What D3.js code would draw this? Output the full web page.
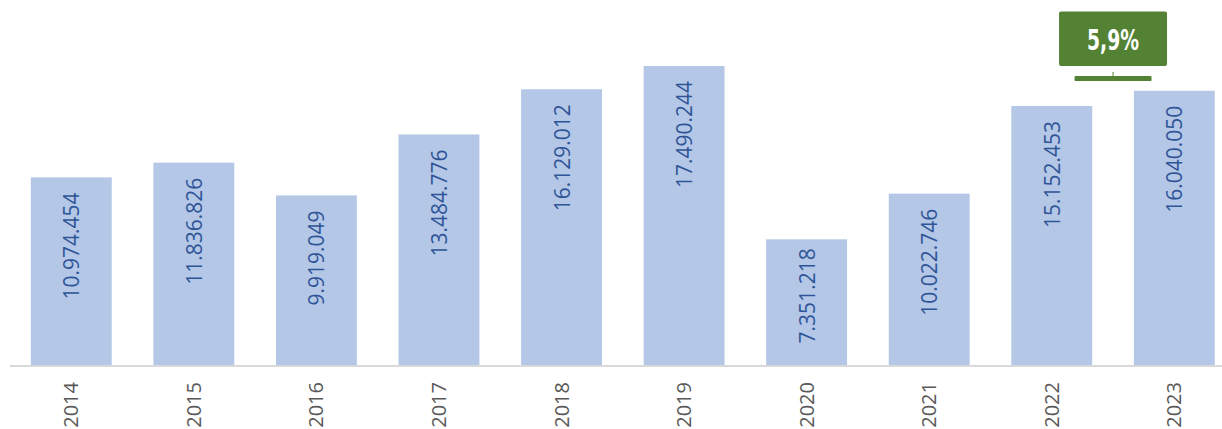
<!DOCTYPE html>
<html>
<head>
<meta charset="utf-8">
<script src="https://cdn.jsdelivr.net/npm/d3@7"></script>
<style>
  html, body { margin: 0; padding: 0; background: #ffffff; }
  svg { display: block; }
</style>
</head>
<body>
<svg id="chart" width="1222" height="429"></svg>
<script>
// Annual totals, 2014–2023
const years = ["2014", "2015", "2016", "2017", "2018", "2019", "2020", "2021", "2022", "2023"];
const values = [10974454, 11836826, 9919049, 13484776, 16129012, 17490244, 7351218, 10022746, 15152453, 16040050];
// Year-over-year change highlighted between the last two years
const changeFrom = "2022";
const changeTo = "2023";
const changeLabel = "5,9%";

const W = 1222, H = 429;
const baseY = 365;

const svg = d3.select("#chart");

const x = d3.scaleBand()
  .domain(years)
  .range([10, 1235.6])
  .paddingInner(0.34)
  .paddingOuter(0.17);

const y = d3.scaleLinear()
  .domain([0, 21350000])
  .range([baseY, 0]);

const fmt = v => d3.format(",")(v).replace(/,/g, ".");

// bars
svg.append("g").selectAll("rect")
  .data(years)
  .join("rect")
  .attr("x", d => x(d))
  .attr("y", (d, i) => y(values[i]))
  .attr("width", x.bandwidth())
  .attr("height", (d, i) => y(0) - y(values[i]))
  .attr("fill", "#b4c7e7");

// value labels, rotated, near the top of each bar (short bars get a tighter inset)
svg.append("g").selectAll("text")
  .data(years)
  .join("text")
  .attr("transform", (d, i) => {
    const h = y(0) - y(values[i]);
    const inset = h < 150 ? 9 : 15;
    return `translate(${x(d) + x.bandwidth() / 2 + 8},${y(values[i]) + inset}) rotate(-90)`;
  })
  .attr("text-anchor", "end")
  .attr("font-family", "'Open Sans', sans-serif")
  .attr("font-size", 21)
  .attr("fill", "#2f5597")
  .text((d, i) => fmt(values[i]));

// category axis
const xAxis = svg.append("g")
  .attr("transform", `translate(0,${baseY + 1})`)
  .call(d3.axisBottom(x).tickSize(0).tickPadding(0));
xAxis.select(".domain").attr("d", `M10,0H${W}`).attr("stroke", "#d9d9d9").attr("stroke-width", 2);
xAxis.selectAll(".tick text")
  .attr("transform", "translate(7,16) rotate(-90)")
  .attr("text-anchor", "end")
  .attr("dy", 0)
  .attr("y", 0)
  .attr("font-family", "'Open Sans', sans-serif")
  .attr("font-size", 20)
  .attr("fill", "#595959");

// change annotation between the last two bars
const cx = (x(changeFrom) + x(changeTo) + x.bandwidth()) / 2;
const ann = svg.append("g").attr("fill", "#548235");
ann.append("rect")
  .attr("x", cx - 77 / 2).attr("y", 76)
  .attr("width", 77).attr("height", 5)
  .attr("rx", 1);
ann.append("rect")
  .attr("x", cx - 0.5).attr("y", 72)
  .attr("width", 1).attr("height", 5);
ann.append("rect")
  .attr("x", cx - 54).attr("y", 11.5)
  .attr("width", 108).attr("height", 54.5)
  .attr("rx", 2);
ann.append("text")
  .attr("x", cx).attr("y", 50)
  .attr("text-anchor", "middle")
  .attr("font-family", "'DejaVu Sans', sans-serif")
  .attr("font-weight", "bold")
  .attr("font-size", 28)
  .attr("textLength", 52)
  .attr("lengthAdjust", "spacingAndGlyphs")
  .attr("fill", "#ffffff")
  .text(changeLabel);
</script>
</body>
</html>
